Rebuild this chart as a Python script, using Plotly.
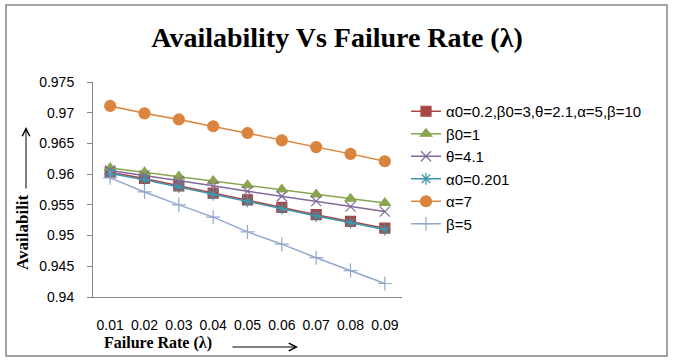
import plotly.graph_objects as go

failure_rate = ["0.01", "0.02", "0.03", "0.04", "0.05", "0.06", "0.07", "0.08", "0.09"]

s_base = [0.9603, 0.9593, 0.9581, 0.9569, 0.9558, 0.9546, 0.9534, 0.9523, 0.9512]
s_beta0_1 = [0.9610, 0.9603, 0.9596, 0.9589, 0.9582, 0.9575, 0.9567, 0.9560, 0.9553]
s_theta_41 = [0.9606, 0.9598, 0.9589, 0.9581, 0.9572, 0.9564, 0.9556, 0.9547, 0.9539]
s_alpha0_0201 = [0.9601, 0.9591, 0.9579, 0.9567, 0.9556, 0.9544, 0.9532, 0.9521, 0.9510]
s_alpha_7 = [0.9711, 0.9699, 0.9689, 0.9678, 0.9667, 0.9655, 0.9644, 0.9633, 0.9621]
s_beta_5 = [0.9594, 0.9571, 0.9550, 0.9530, 0.9506, 0.9486, 0.9464, 0.9443, 0.9422]

names = ["α0=0.2,β0=3,θ=2.1,α=5,β=10", "β0=1", "θ=4.1", "α0=0.201", "α=7", "β=5"]
y_ticks = [0.94, 0.945, 0.95, 0.955, 0.96, 0.965, 0.97, 0.975]

series = [s_base, s_beta0_1, s_theta_41, s_alpha0_0201, s_alpha_7, s_beta_5]
colors = ["#AA4643", "#89A54E", "#80699B", "#3D96AE", "#DB843D", "#92A8CD"]
symbols = ["square", "triangle-up", "x-thin-open", "asterisk-open", "circle", "cross-thin-open"]
sizes = [10, 10, 10, 10, 11, 10]

fig = go.Figure()
for ys, nm, c, sym, sz in zip(series, names, colors, symbols, sizes):
    fig.add_trace(go.Scatter(
        x=failure_rate, y=ys, name=nm, mode="lines+markers",
        line=dict(color=c, width=1.5),
        marker=dict(symbol=sym, size=sz, color=c, line=dict(color=c, width=1.2)),
    ))

W, H = 673, 360
# plot area in pixels
X0, X1, Y0, Y1 = 93, 402, 82, 297


def px(x):
    return x / W


def py(y):
    return (H - y) / H


serif = "Liberation Serif, Times New Roman, serif"
sans = "Liberation Sans, Arial, sans-serif"

fig.update_layout(
    width=W, height=H,
    margin=dict(l=0, r=0, t=0, b=0, autoexpand=False),
    paper_bgcolor="white", plot_bgcolor="white",
    font=dict(family=sans, size=14, color="black"),
    title=dict(text="<b>Availability Vs Failure Rate (λ)</b>",
               font=dict(family=serif, size=28, color="black"),
               x=337 / W, xanchor="center", y=py(37), yanchor="middle"),
    showlegend=True,
    legend=dict(x=px(406), y=py(95), xanchor="left", yanchor="top",
                font=dict(family=sans, size=15),
                bgcolor="rgba(0,0,0,0)", tracegroupgap=0),
    xaxis=dict(type="category", range=[-0.5, 8.5], domain=[px(X0), px(X1)],
               showgrid=False, zeroline=False,
               showline=True, linecolor="#868686", linewidth=1, ticks="",
               ticklabelstandoff=15, tickfont=dict(size=14)),
    yaxis=dict(range=[0.94, 0.975], domain=[py(Y1), py(Y0)],
               tickvals=y_ticks, ticktext=[f"{v:g}" for v in y_ticks],
               showgrid=False, zeroline=False, showline=True, linecolor="#868686", linewidth=1,
               ticks="outside", ticklen=5, tickcolor="#868686", ticklabelstandoff=10,
               tickfont=dict(size=14)),
)

# outer chart border
fig.add_shape(type="rect", xref="paper", yref="paper",
              x0=px(6), x1=px(667), y0=py(356), y1=py(5),
              line=dict(color="#868686", width=1.5), fillcolor="rgba(0,0,0,0)")

# y-axis title and arrow
fig.add_annotation(xref="paper", yref="paper", x=px(23), y=py(232),
                   xanchor="center", yanchor="middle",
                   text="<b>Availabilit</b>", showarrow=False, textangle=-90,
                   font=dict(family=serif, size=17, color="black"))
fig.add_annotation(xref="paper", yref="paper", x=px(26), y=py(127),
                   ax=0, ay=63, axref="pixel", ayref="pixel",
                   text="", showarrow=True, arrowhead=5, arrowsize=1.5, arrowwidth=1, arrowcolor="black")

# x-axis title and arrow
fig.add_annotation(xref="paper", yref="paper", x=px(158), y=py(343),
                   xanchor="center", yanchor="middle",
                   text="<b>Failure Rate (λ)</b>", showarrow=False,
                   font=dict(family=serif, size=16, color="black"))
fig.add_annotation(xref="paper", yref="paper", x=px(298), y=py(347),
                   ax=-67, ay=0, axref="pixel", ayref="pixel",
                   text="", showarrow=True, arrowhead=5, arrowsize=1.5, arrowwidth=1, arrowcolor="black")

fig.write_html("out.html", config={"displayModeBar": False},
               post_script="document.body.style.margin='0';")
